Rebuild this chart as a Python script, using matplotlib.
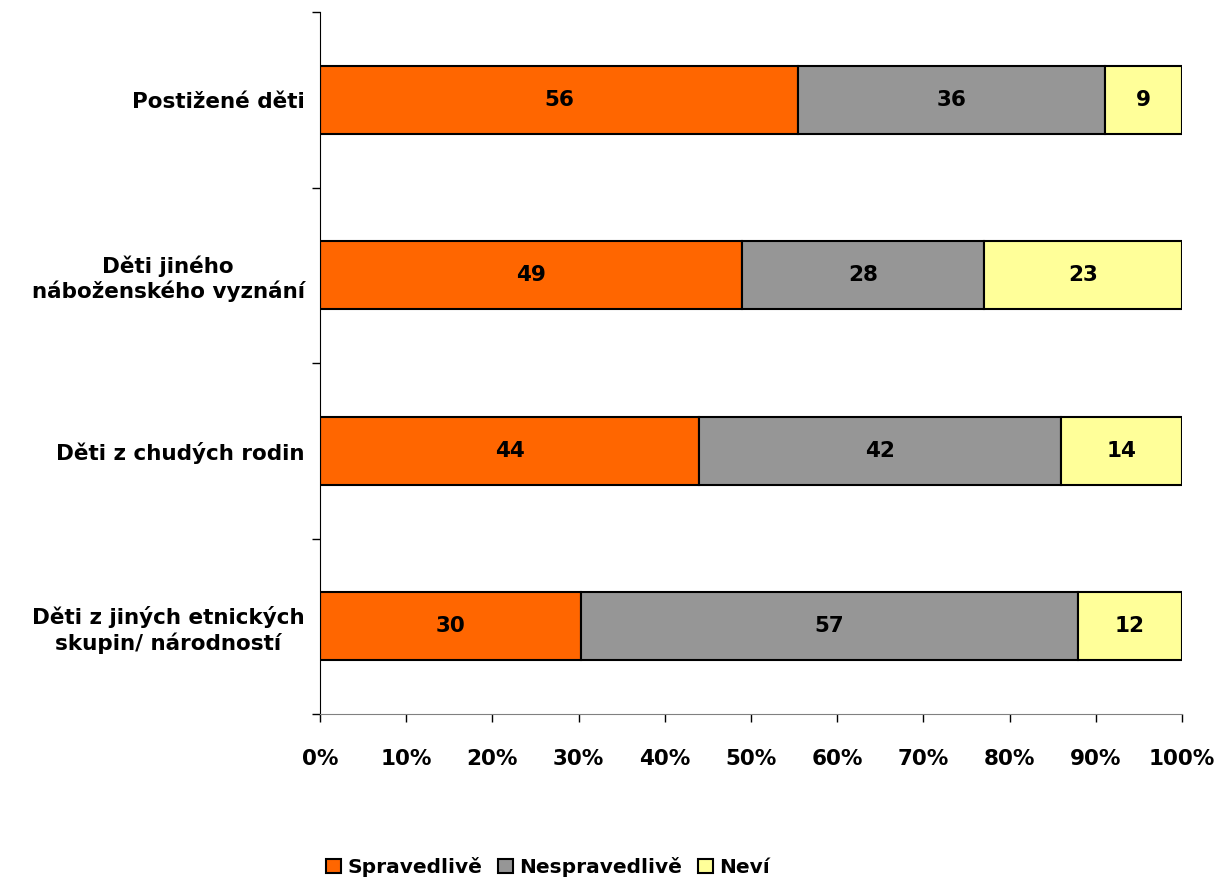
import matplotlib.pyplot as plt
import numpy as np

categories = [
    "Postižené děti",
    "Děti jiného\nnáboženského vyznání",
    "Děti z chudých rodin",
    "Děti z jiných etnických\nskupin/ národností",
]
series_names = ["Spravedlivě", "Nespravedlivě", "Neví"]
spravedlive = [56, 49, 44, 30]
nespravedlive = [36, 28, 42, 57]
nevi = [9, 23, 14, 12]
colors = ["#FF6600", "#969696", "#FFFF99"]

plt.rcParams["font.family"] = ["DejaVu Sans"]
plt.rcParams["font.weight"] = "bold"
fs = 15.5

data = np.array([spravedlive, nespravedlive, nevi], dtype=float)
shares = data / data.sum(axis=0) * 100

fig = plt.figure(figsize=(12.16, 8.9), dpi=100)
ax = fig.add_axes([320 / 1216, 1 - 714 / 890, 862 / 1216, 702 / 890])

y = np.arange(len(categories))
left = np.zeros(len(categories))
for i, name in enumerate(series_names):
    ax.barh(y, shares[i], left=left, height=0.39, color=colors[i],
            edgecolor="black", linewidth=1.5, label=name)
    for j in range(len(categories)):
        ax.text(left[j] + shares[i][j] / 2, y[j], f"{int(data[i][j])}",
                ha="center", va="center", fontsize=fs, fontweight="bold")
    left += shares[i]

ax.set_xlim(0, 100)
ax.set_ylim(len(categories) - 0.5, -0.5)
ax.set_xticks(np.arange(0, 101, 10))
ax.set_xticklabels([f"{v}%" for v in range(0, 101, 10)], fontsize=fs, fontweight="bold")
ax.set_yticks(y)
ax.set_yticklabels(categories, fontsize=fs, fontweight="bold", linespacing=1.2,
                   multialignment="center")
ax.set_yticks(np.arange(-0.5, len(categories), 1), minor=True)
ax.tick_params(axis="y", which="major", length=0, pad=11)
ax.tick_params(axis="y", which="minor", length=6, width=1)
ax.tick_params(axis="x", length=6, width=1, direction="out", pad=19)
for s in ["top", "right"]:
    ax.spines[s].set_visible(False)
ax.spines["bottom"].set_color("#808080")

fig.legend(loc="center", bbox_to_anchor=(548 / 1216, 1 - 867 / 890), ncol=3,
           frameon=False, handlelength=0.75, handleheight=0.75, handletextpad=0.3,
           columnspacing=0.8, prop={"size": 14.5, "weight": "bold"})

fig.savefig("out.png", dpi=100)
